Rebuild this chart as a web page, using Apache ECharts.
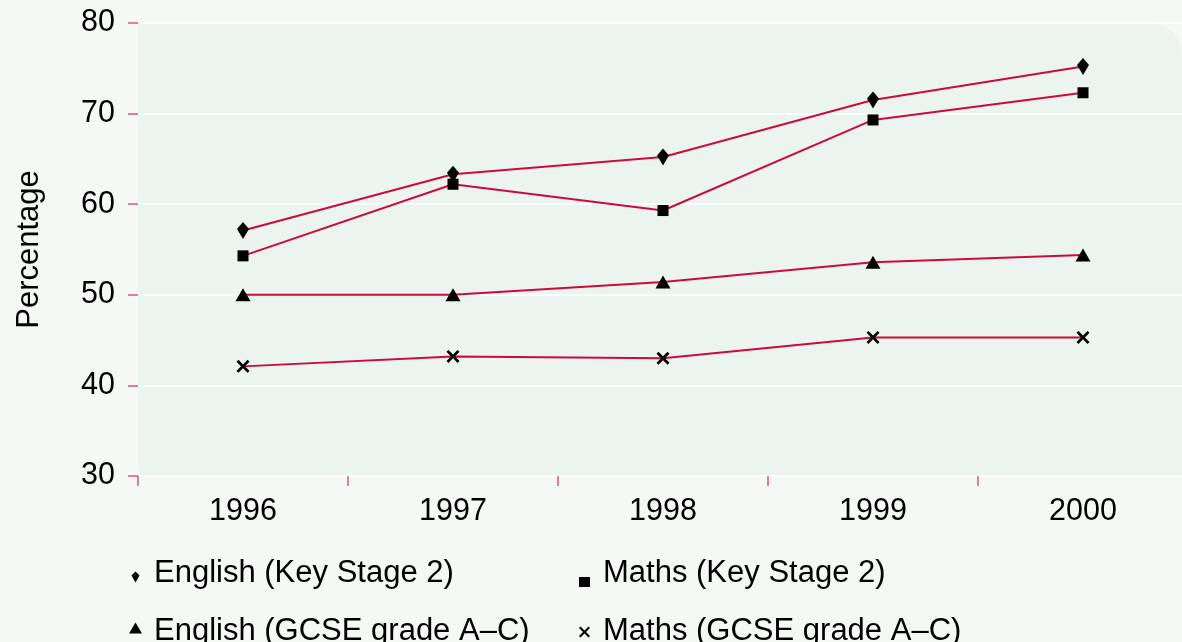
<!DOCTYPE html>
<html>
<head>
<meta charset="utf-8">
<script src="https://cdn.jsdelivr.net/npm/echarts@6/dist/echarts.min.js"></script>
<style>
html,body{margin:0;padding:0;background:#f6f8f6;overflow:hidden;width:1182px;height:642px;}
#chart{width:1188px;height:642px;}
</style>
</head>
<body>
<div id="chart"></div>
<script>
const years = ['1996', '1997', '1998', '1999', '2000'];
const englishKS2 = [57.1, 63.3, 65.2, 71.5, 75.2];
const mathsKS2 = [54.3, 62.2, 59.3, 69.3, 72.3];
const englishGCSE = [50.0, 50.0, 51.4, 53.6, 54.4];
const mathsGCSE = [42.1, 43.2, 43.0, 45.3, 45.3];
const yTicks = [30, 40, 50, 60, 70, 80];
const seriesNames = ['English (Key Stage 2)', 'Maths (Key Stage 2)', 'English (GCSE grade A\u2013C)', 'Maths (GCSE grade A\u2013C)'];
const yAxisName = 'Percentage';

const FONT = '"Liberation Sans", Arial, Helvetica, sans-serif';
const LINE = '#cc0a3c';
const TICK = '#d6587c';
const DIAMOND = 'path://M6,0L12,7L6,17L0,7Z';
const CROSS = 'path://M0,1.5L1.5,0L5,3.5L8.5,0L10,1.5L6.5,5L10,8.5L8.5,10L5,6.5L1.5,10L0,8.5L3.5,5Z';
// legend icons: invisible moveTo points set a 30px-tall box so each glyph sits at its own height
const LG_DIAMOND = 'path://M4,0M4,30M4,13.5L8,17.5L4,24.5L0,17.5Z';
const LG_SQUARE = 'path://M0,0M0,30M0,19L11,19L11,29L0,29Z';
const LG_TRIANGLE = 'path://M6.5,0M6.5,30M6.5,6.5L13,17.5L0,17.5Z';
const LG_CROSS = 'path://M0,0M0,30M0,12L1.5,10.5L5.5,14.5L9.5,10.5L11,12L7,16L11,20L9.5,21.5L5.5,17.5L1.5,21.5L0,20L4,16Z';

function mkSeries(name, data, symbol, size) {
  return {
    name: name, type: 'line', data: data,
    symbol: symbol, symbolSize: size, symbolKeepAspect: false,
    showSymbol: true,
    lineStyle: {color: LINE, width: 2},
    itemStyle: {color: '#000'},
    emphasis: {disabled: true},
    animation: false,
    z: 3
  };
}

function mkLegend(left, items) {
  return {
    orient: 'vertical', left: left, top: 548, height: 120, itemGap: 8,
    itemWidth: 27, itemHeight: 30, symbolKeepAspect: true,
    padding: 0,
    textStyle: {color: '#000', fontSize: 31, lineHeight: 36, fontFamily: FONT, padding: [0, 0, 14, 0]},
    data: items,
    selectedMode: false
  };
}

const chart = echarts.init(document.getElementById('chart'), null, {renderer: 'canvas'});
chart.setOption({
  backgroundColor: '#f6f8f6',
  animation: false,
  textStyle: {fontFamily: FONT},
  graphic: [{
    type: 'rect', left: 138, top: 23, z: -10, silent: true,
    shape: {width: 1044, height: 453, r: [0, 32, 0, 0]},
    style: {fill: '#ecf4ef'}
  }],
  grid: {left: 138, right: 0, top: 23, bottom: 166, containLabel: false},
  xAxis: {
    type: 'category', data: years, boundaryGap: true,
    axisLine: {show: false},
    axisTick: {show: true, length: 10, lineStyle: {color: TICK, width: 1.5}},
    axisLabel: {color: '#000', fontSize: 30.5, margin: 20, fontFamily: FONT},
    splitLine: {show: false}
  },
  yAxis: {
    type: 'value', min: yTicks[0], max: yTicks[yTicks.length - 1], interval: 10,
    name: yAxisName, nameLocation: 'middle', nameGap: 93, nameRotate: 90,
    nameTextStyle: {color: '#000', fontSize: 31, fontFamily: FONT},
    axisLine: {show: false},
    axisTick: {show: true, length: 10, lineStyle: {color: TICK, width: 1.5}},
    axisLabel: {color: '#000', fontSize: 30.5, margin: 23, fontFamily: FONT},
    splitLine: {show: true, lineStyle: {color: '#ffffff', width: 1.5}}
  },
  legend: [
    mkLegend(129, [
      {name: seriesNames[0], icon: LG_DIAMOND, itemStyle: {color: '#000'}},
      {name: seriesNames[2], icon: LG_TRIANGLE, itemStyle: {color: '#000'}}
    ]),
    mkLegend(579, [
      {name: seriesNames[1], icon: LG_SQUARE, itemStyle: {color: '#000'}},
      {name: seriesNames[3], icon: LG_CROSS, itemStyle: {color: '#000'}}
    ])
  ],
  series: [
    mkSeries(seriesNames[0], englishKS2, DIAMOND, [12, 17]),
    mkSeries(seriesNames[1], mathsKS2, 'rect', 11),
    mkSeries(seriesNames[2], englishGCSE, 'triangle', [15, 13]),
    mkSeries(seriesNames[3], mathsGCSE, CROSS, 13)
  ]
});
</script>
</body>
</html>
